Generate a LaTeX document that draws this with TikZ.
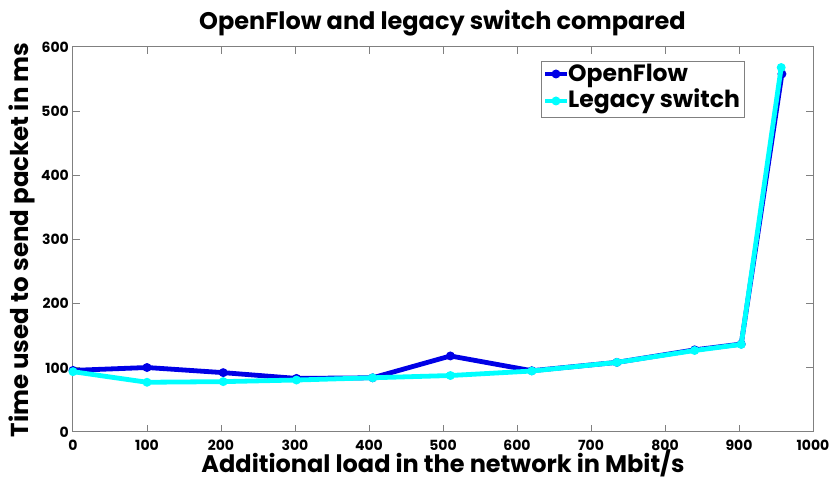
\documentclass[tikz,border=0pt]{standalone}
\usepackage{fontspec}
\setmainfont{Poppins}[BoldFont={* Bold}]
\usetikzlibrary{calc}
\definecolor{ofblue}{RGB}{0,0,230}
\definecolor{lgcyan}{RGB}{0,255,255}
\definecolor{axgray}{RGB}{128,128,128}
\begin{document}
\begin{tikzpicture}[x=1pt,y=1pt,
  axisline/.style={draw=axgray,line width=1pt},
  ticklab/.style={font=\bfseries\fontsize{14}{14}\selectfont,inner sep=0pt},
  ofline/.style={draw=ofblue,line width=4.8pt,line join=round},
  lgline/.style={draw=lgcyan,line width=4.8pt,line join=round},
  ofmark/.style={fill=ofblue},
  lgmark/.style={fill=lgcyan},
  titletext/.style={font=\bfseries\fontsize{24}{24}\selectfont,inner sep=0pt,anchor=base},
  labeltext/.style={font=\bfseries\fontsize{24.5}{24.5}\selectfont,inner sep=0pt,anchor=base},
  legtext/.style={font=\bfseries\fontsize{23.5}{23.5}\selectfont,anchor=base west,inner sep=0pt}]
\useasboundingbox (-73,-49) rectangle (762,432);
\begin{scope}[x=0.74pt,y=0.6417pt]
  % axes box
  \draw[axisline] (0,0) rectangle (1000,600);
  \foreach \t in {0,100,...,1000}{
    \draw[axisline] (\t,0) -- ++(0,7pt);
    \draw[axisline] (\t,600) -- ++(0,-7pt);
    \node[ticklab,anchor=base] (xt\t) at (\t,-19pt) {\t};
  }
  \foreach \t in {0,100,...,600}{
    \draw[axisline] (0,\t) -- ++(7pt,0);
    \draw[axisline] (1000,\t) -- ++(-7pt,0);
    \node[ticklab,anchor=east] (yt\t) at (-4pt,\t) {\t};
  }
  % data
  \foreach \n/\x/\y in {1/0/96,2/100/100.5,3/203/92.5,4/302/83.5,5/405/84.5,6/510/118.5,7/620/95.5,8/735/108.5,9/840/128,10/903/137,11/958/558}
    \coordinate (o\n) at (\x,\y);
  \foreach \n/\x/\y in {1/0/94,2/100/77.5,3/203/78.5,4/302/81,5/405/84.5,6/510/88,7/620/95,8/735/108.5,9/840/127,10/903/136.5,11/957/568}
    \coordinate (l\n) at (\x,\y);
  \draw[ofline] (o1)--(o2)--(o3)--(o4)--(o5)--(o6)--(o7)--(o8)--(o9)--(o10)--(o11);
  \foreach \n in {1,...,11} \fill[ofmark] (o\n) circle (4.5pt);
  \draw[lgline] (l1)--(l2)--(l3)--(l4)--(l5)--(l6)--(l7)--(l8)--(l9)--(l10)--(l11);
  \foreach \n in {1,...,11} \fill[lgmark] (l\n) circle (4.5pt);
\end{scope}
% legend
\node[draw=axgray,fill=white,line width=1pt,minimum width=203pt,minimum height=56pt,anchor=north west,inner sep=0pt] (legend) at (468,371) {};
\coordinate (lga) at (472,358);
\coordinate (lgb) at (494,358);
\draw[ofline,line width=4pt] (lga) -- (lgb);
\fill[ofmark] ($(lga)!0.5!(lgb)$) circle (4.5pt);
\node[legtext] (legof) at (495,350) {OpenFlow};
\coordinate (lgc) at (472,331);
\coordinate (lgd) at (494,331);
\draw[lgline,line width=4pt] (lgc) -- (lgd);
\fill[lgmark] ($(lgc)!0.5!(lgd)$) circle (4.5pt);
\node[legtext] (leglg) at (495,324) {Legacy switch};
% title and labels
\node[titletext] (title) at (369.5,402) {OpenFlow and legacy switch compared};
\node[labeltext,font=\bfseries\fontsize{24}{24}\selectfont] (xlabel) at (370,-40.5) {Additional load in the network in Mbit/s};
\node[labeltext,rotate=90] (ylabel) at (-44,192) {Time used to send packet in ms};
\end{tikzpicture}
\end{document}
